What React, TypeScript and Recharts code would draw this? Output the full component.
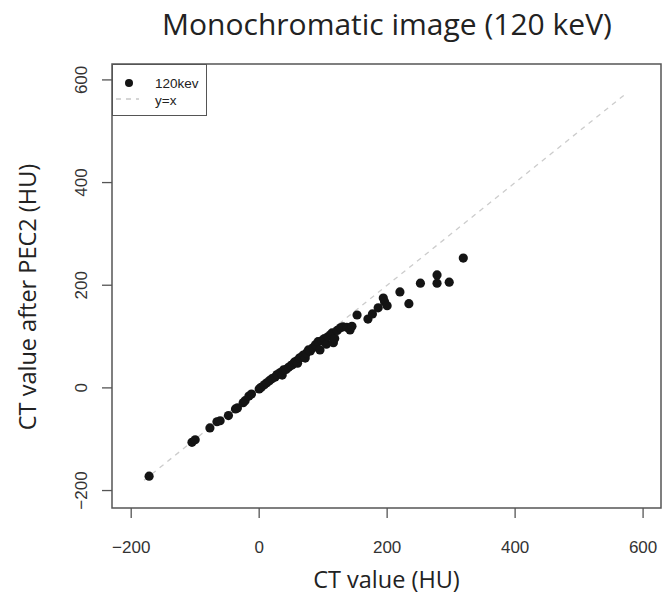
import React from 'react';
import {
  ScatterChart, Scatter, XAxis, YAxis, ReferenceLine, ReferenceArea, Label
} from 'recharts';

// CT value (HU) before / after PEC2
const ctBefore = [
  -172, -105, -100, -77, -66, -61, -48, -37, -34, -25, -22, -16, -12, 0, 3, 8, 12, 16, 20, 25,
  28, 33, 36, 38, 42, 46, 50, 52, 55, 58, 60, 63, 66, 69, 72, 74, 77, 80, 84, 88,
  92, 95, 98, 102, 105, 108, 112, 114, 116, 118, 122, 127, 131, 137, 142, 145,
  153, 170, 177, 186, 194, 196, 200, 220, 234, 252, 278, 278, 297, 319,
];
const ctAfter = [
  -172, -106, -101, -78, -66, -64, -54, -41, -39, -29, -25, -16, -12, -2, 1, 6, 10, 14, 18, 21,
  26, 30, 25, 35, 36, 40, 44, 45, 50, 52, 48, 58, 60, 64, 58, 68, 74, 72, 78, 84,
  90, 74, 92, 96, 85, 100, 104, 107, 88, 96, 112, 117, 119, 118, 113, 120,
  142, 134, 144, 156, 175, 168, 160, 187, 164, 204, 220, 204, 206, 253,
];
const xTicks = [-200, 0, 200, 400, 600];
const yTicks = [-200, 0, 200, 400, 600];
const identityLine = [-180, 575];

const points = ctBefore.map((x, i) => ({ x, y: ctAfter[i] }));

const fmt = (v: number) => (v < 0 ? '\u2212' + Math.abs(v) : String(v));
const tickFont = '"Liberation Sans", Arial, sans-serif';
const labelFont = '"Open Sans", sans-serif';

const XTick = ({ x, payload }: any) => (
  <text x={x} y={553} textAnchor="middle" fill="#333" fontSize={17} fontFamily={tickFont}>
    {fmt(payload.value)}
  </text>
);

const YTick = ({ y, payload }: any) => (
  <text x={87} y={y} transform={`rotate(-90 87 ${y})`} textAnchor="middle" fill="#333" fontSize={17} fontFamily={tickFont}>
    {fmt(payload.value)}
  </text>
);

const YTitle = () => (
  <text x={36} y={297} transform="rotate(-90 36 297)" textAnchor="middle" fill="#222" fontSize={23.5} fontFamily={labelFont}>
    CT value after PEC2 (HU)
  </text>
);

const Dot = (props: any) => <circle cx={props.cx} cy={props.cy} r={4.6} fill="#141414" />;

export default function App() {
  return (
    <div style={{ position: 'absolute', left: 0, top: 0, width: 664, height: 599, background: '#fff' }}>
      <div style={{
        position: 'absolute', left: 0, width: 774, top: 4, textAlign: 'center',
        fontFamily: labelFont, fontSize: 30, color: '#222', lineHeight: '40px'
      }}>
        Monochromatic image (120 keV)
      </div>
      <ScatterChart width={664} height={599} margin={{ top: 64, right: 3, bottom: 0, left: 0 }}>
        <XAxis
          type="number" dataKey="x" domain={[-230, 628]} ticks={xTicks} allowDataOverflow
          height={91} tickSize={10} axisLine={false} tickLine={{ stroke: '#555', strokeWidth: 1.3 }} tick={<XTick />}
        >
          <Label value="CT value (HU)" position="insideBottom" offset={11} fill="#222" fontSize={23.5} fontFamily={labelFont} />
        </XAxis>
        <YAxis
          type="number" dataKey="y" domain={[-234, 631]} ticks={yTicks} allowDataOverflow
          width={112} tickSize={10} axisLine={false} tickLine={{ stroke: '#555', strokeWidth: 1.3 }} tick={<YTick />}
        >
          <Label content={<YTitle />} />
        </YAxis>
        <ReferenceArea x1={-230} x2={628} y1={-234} y2={631} fill="none" stroke="#555" strokeWidth={1.5} ifOverflow="visible" />
        <ReferenceLine
          segment={[{ x: identityLine[0], y: identityLine[0] }, { x: identityLine[1], y: identityLine[1] }]}
          stroke="#cccccc" strokeWidth={1.3} strokeDasharray="5 5"
        />
        <Scatter data={points} shape={<Dot />} isAnimationActive={false} />
      </ScatterChart>
      <div style={{
        position: 'absolute', left: 112, top: 64, width: 95, height: 52, boxSizing: 'border-box',
        border: '1.5px solid #555', background: '#fff', fontFamily: tickFont, fontSize: 13.5, color: '#222'
      }}>
        <svg width={92} height={49} style={{ position: 'absolute', left: 0, top: 0 }}>
          <circle cx={16} cy={18} r={4} fill="#141414" />
          <line x1={3} x2={26} y1={34} y2={34} stroke="#c8c8c8" strokeWidth={1.3} strokeDasharray="5 5" />
          <text x={42} y={23} fontSize={13.5} fontFamily={tickFont} fill="#222">120kev</text>
          <text x={42} y={40} fontSize={13.5} fontFamily={tickFont} fill="#222">y=x</text>
        </svg>
      </div>
    </div>
  );
}
